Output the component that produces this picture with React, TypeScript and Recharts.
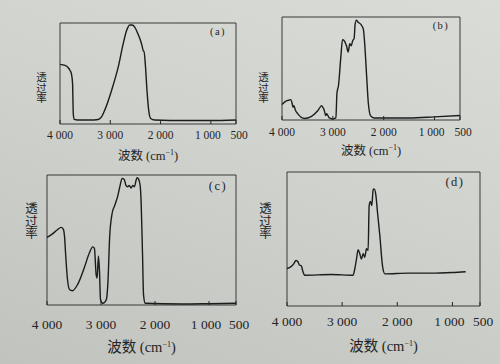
import React from "react";
import { LineChart, Line, XAxis, YAxis, ReferenceArea } from "recharts";

// wavenumber (cm-1) / relative transmittance (0-100)
const aWave = [4000, 3900, 3840, 3800, 3770, 3750, 3736, 3716, 3650, 3400, 3240, 3175, 3108, 2976, 2844, 2745, 2679, 2613, 2567, 2514, 2448, 2415, 2382, 2362, 2340, 2329, 2303, 2270, 2237, 2197, 2118, 1500, 1000, 500];
const aTrans = [59, 58, 56, 53, 49, 40, 10, 4.5, 4, 4, 4.5, 7, 14, 33, 56, 79, 92, 98, 98, 96, 89, 85, 80, 76, 72, 72, 59, 33, 14, 5.5, 4, 3.5, 3.5, 4];

const bWave = [4000, 3915, 3850, 3831, 3800, 3785, 3765, 3740, 3688, 3558, 3428, 3297, 3219, 3195, 3180, 3160, 3140, 3120, 3070, 3005, 2940, 2920, 2888, 2842, 2810, 2777, 2732, 2699, 2667, 2640, 2610, 2582, 2562, 2536, 2504, 2452, 2400, 2367, 2335, 2302, 2257, 2192, 1500, 1000, 500];
const bTrans = [15, 18.5, 19.5, 19.8, 16, 12.5, 14, 10, 6, 1.5, 3.3, 9, 14, 12, 11, 7.6, 4.3, 6, 2, 1, 2, 26, 34, 62, 78, 77, 72, 66, 74, 72, 77, 79, 93, 97, 95, 93, 88, 69, 42, 16, 4, 2, 2, 3, 4.3];

const cWave = [4000, 3906, 3812, 3737, 3699, 3674, 3655, 3624, 3580, 3530, 3435, 3310, 3216, 3153, 3122, 3090, 3072, 3047, 3028, 3009, 2965, 2902, 2871, 2840, 2796, 2746, 2695, 2651, 2608, 2570, 2538, 2507, 2475, 2444, 2412, 2381, 2350, 2331, 2306, 2275, 2256, 2231, 2212, 2181, 1500, 1000, 500];
const cTrans = [52, 54.5, 57.7, 59.7, 58.4, 52, 39, 21, 11.7, 11, 15.6, 28.6, 40, 44.7, 43.6, 23.4, 20.8, 37.7, 26, 4, 1.3, 4, 18, 52, 70, 76.6, 83, 91, 97.4, 96.6, 92, 91, 92, 90, 92, 91, 96, 98, 97, 92, 78, 39, 7.8, 1.3, 0.8, 1, 1.3];

const dWave = [4000, 3940, 3879, 3837, 3800, 3776, 3740, 3716, 3679, 3200, 2801, 2771, 2740, 2710, 2680, 2650, 2619, 2589, 2559, 2529, 2510, 2486, 2462, 2438, 2420, 2389, 2359, 2317, 2268, 2225, 1800, 1400, 1000, 760];
const dTrans = [28, 29, 31.4, 34, 33, 30.6, 30, 26.4, 23, 23.5, 23, 27.6, 35, 42, 39, 35, 39, 36.4, 42.7, 41.5, 75, 78, 75, 86.7, 87.4, 83, 70, 52.8, 30, 24, 24.5, 24.5, 25, 25.6];

const ticks = [4000, 3000, 2000, 1000, 500];
const tickLabels = ["4 000", "3 000", "2 000", "1 000", "500"];
const panelNames = ["(a)", "(b)", "(c)", "(d)"];
const yTitle = "透过率";

const ink = "#242424";
const serif = "'Liberation Serif', 'Noto Sans CJK SC', serif";
const M = 30;

const toRows = (w: number[], t: number[]) => w.map((x, i) => ({ w: x, t: t[i] }));

type PanelProps = {
  wave: number[];
  trans: number[];
  name: string;
  left: number;
  top: number;
  w: number;
  h: number;
  fs: number;
  tickDy: number;
  titleY: number;
  yLabelX: number;
  yLabelY: number;
  nameX: number;
  nameY: number;
};

function Panel(p: PanelProps) {
  const rows = toRows(p.wave, p.trans);
  const tick = (props: any) => {
    const { x, y, payload } = props;
    const i = ticks.indexOf(payload.value);
    const shift = payload.value === 1000 ? -3 : payload.value === 500 ? 3 : 0;
    return (
      <g>
        <line x1={x} x2={x} y1={y} y2={y - 4} stroke={ink} strokeWidth={1} />
        <text x={x + shift} y={y + p.tickDy} textAnchor="middle" fontSize={p.fs} fill={ink} fontFamily={serif}>
          {tickLabels[i]}
        </text>
      </g>
    );
  };
  return (
    <>
      <div style={{ position: "absolute", left: p.left - M, top: p.top - 10 }}>
        <LineChart width={p.w + 2 * M} height={p.h + 50} data={rows} margin={{ top: 10, right: M, left: M, bottom: 0 }}>
          <XAxis
            dataKey="w"
            type="number"
            domain={[500, 4000]}
            reversed
            ticks={ticks}
            interval={0}
            tickSize={0}
            tickMargin={0}
            axisLine={false}
            height={40}
            tick={tick}
          />
          <YAxis hide type="number" domain={[0, 100]} />
          <ReferenceArea x1={500} x2={4000} y1={0} y2={100} fill="none" stroke="#3a3a3a" strokeWidth={1} />
          <Line
            dataKey="t"
            type="monotone"
            stroke="#1c1c1c"
            strokeWidth={1.4}
            dot={false}
            isAnimationActive={false}
          />
        </LineChart>
      </div>
      <div
        style={{
          position: "absolute",
          left: p.nameX - 15,
          top: p.nameY - 7,
          width: 30,
          textAlign: "center",
          fontFamily: serif,
          fontSize: p.fs - 1,
          letterSpacing: 1.5,
          color: ink,
        }}
      >
        {p.name}
      </div>
      <div
        style={{
          position: "absolute",
          left: p.yLabelX - 7,
          top: p.yLabelY,
          width: 14,
          writingMode: "vertical-rl",
          textOrientation: "upright",
          fontFamily: "'Noto Sans CJK SC', sans-serif",
          fontSize: p.fs - 1,
          lineHeight: "14px",
          color: ink,
        }}
      >
        {yTitle}
      </div>
      <div
        style={{
          position: "absolute",
          left: p.left,
          width: p.w,
          top: p.titleY - 8,
          textAlign: "center",
          fontFamily: serif,
          fontSize: p.fs + 1,
          color: ink,
          whiteSpace: "nowrap",
        }}
      >
        波数 (cm<sup style={{ fontSize: 8, verticalAlign: "5px" }}>−1</sup>)
      </div>
    </>
  );
}

export default function App() {
  return (
    <div
      style={{
        position: "absolute",
        left: 0,
        top: 0,
        width: 500,
        height: 364,
        overflow: "hidden",
        background: "linear-gradient(200deg, #dadcd8 0%, #d0d2ce 45%, #c1c3bf 100%)",
      }}
    >
      <Panel wave={aWave} trans={aTrans} name={panelNames[0]} left={60} top={23} w={176} h={101} fs={11.5}
        tickDy={15} titleY={153} yLabelX={41} yLabelY={72} nameX={218} nameY={33} />
      <Panel wave={bWave} trans={bTrans} name={panelNames[1]} left={282} top={17} w={178} h={103} fs={11.5}
        tickDy={16} titleY={148} yLabelX={263} yLabelY={72} nameX={441} nameY={27} />
      <Panel wave={cWave} trans={cTrans} name={panelNames[2]} left={47} top={175} w={189} h={130} fs={13.5}
        tickDy={24} titleY={343} yLabelX={31} yLabelY={202} nameX={218} nameY={186} />
      <Panel wave={dWave} trans={dTrans} name={panelNames[3]} left={287} top={172} w={193} h={134} fs={13.5}
        tickDy={20} titleY={342} yLabelX={265} yLabelY={202} nameX={455} nameY={182} />
    </div>
  );
}
